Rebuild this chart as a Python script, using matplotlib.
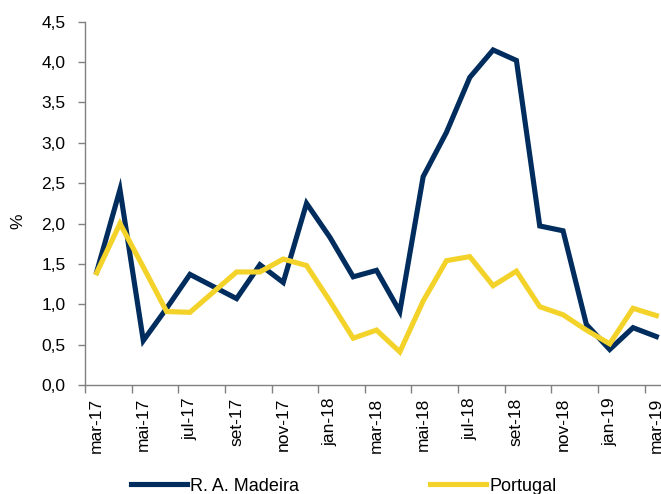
import matplotlib
matplotlib.use("Agg")
import matplotlib.pyplot as plt
import numpy as np

plt.rcParams['font.family'] = ['Liberation Sans', 'DejaVu Sans']

months = ["mar-17", "abr-17", "mai-17", "jun-17", "jul-17", "ago-17", "set-17", "out-17",
          "nov-17", "dez-17", "jan-18", "fev-18", "mar-18", "abr-18", "mai-18", "jun-18",
          "jul-18", "ago-18", "set-18", "out-18", "nov-18", "dez-18", "jan-19", "fev-19", "mar-19"]
madeira = [1.40, 2.42, 0.55, 0.95, 1.37, 1.22, 1.07, 1.49, 1.27, 2.25, 1.83, 1.34, 1.42,
           0.91, 2.58, 3.13, 3.81, 4.15, 4.02, 1.97, 1.91, 0.75, 0.44, 0.71, 0.60]
portugal = [1.39, 2.00, 1.46, 0.91, 0.90, 1.15, 1.40, 1.40, 1.56, 1.48, 1.04, 0.58, 0.68,
            0.41, 1.04, 1.54, 1.59, 1.23, 1.41, 0.97, 0.87, 0.68, 0.51, 0.95, 0.86]
yticks = [0.0, 0.5, 1.0, 1.5, 2.0, 2.5, 3.0, 3.5, 4.0, 4.5]

navy = "#002D5E"
yellow = "#F3D32A"

fig = plt.figure(figsize=(6.61, 4.94), dpi=100)
ax = fig.add_axes([85/661, 1-385/494, 583/661, (385-21.7)/494])
x = np.arange(len(months))
ax.plot(x, madeira, color=navy, lw=3.7, label="R. A. Madeira", solid_joinstyle='miter')
ax.plot(x, portugal, color=yellow, lw=3.7, label="Portugal", solid_joinstyle='miter')

ax.set_xlim(-0.5, len(months) - 0.5)
ax.set_ylim(0, 4.5)
ax.set_yticks(yticks)
ax.set_yticklabels([f"{v:.1f}".replace(".", ",") for v in yticks], fontsize=12.5)
ax.set_xticks(x[::2])
ax.set_xticklabels(months[::2], rotation=90, fontsize=12.5)
ax.set_xticks(np.arange(-0.5, len(months), 2), minor=True)
ax.tick_params(axis='x', which='major', length=0, pad=9)
ax.tick_params(axis='x', which='minor', length=6, width=1, color="#808080", direction='out')
ax.tick_params(axis='y', length=5, width=1, color="#808080", direction='out', pad=9)
for s in ['top', 'right']:
    ax.spines[s].set_visible(False)
for s in ['left', 'bottom']:
    ax.spines[s].set_color("#808080")
    ax.spines[s].set_linewidth(1)
ax.set_ylabel("%", fontsize=12.5)
ax.yaxis.set_label_coords(-0.103, 0.45)

fig.legend(loc='center', bbox_to_anchor=(0.52, 0.016), ncol=2, frameon=False,
           fontsize=13, handlelength=3.1, handletextpad=0.15, columnspacing=7.3)

fig.savefig("out.png", dpi=100)
